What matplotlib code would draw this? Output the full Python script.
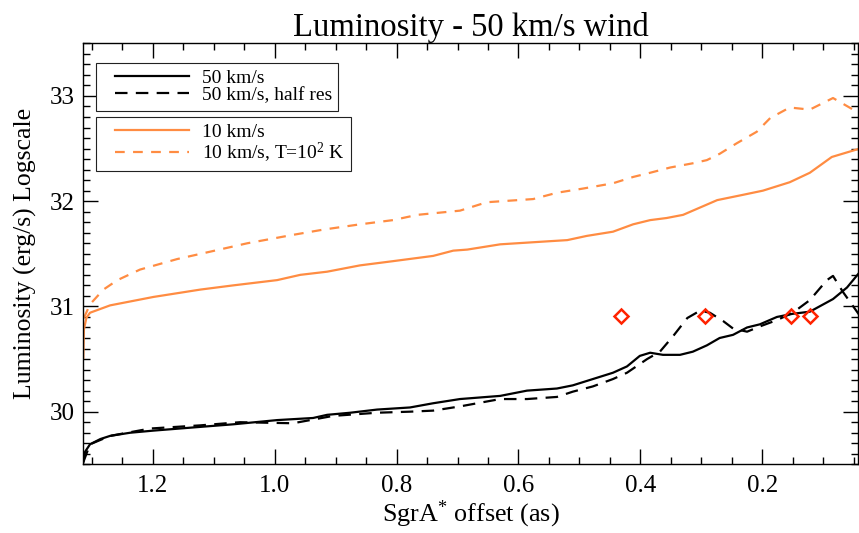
import matplotlib
matplotlib.use("Agg")
import matplotlib.pyplot as plt
from matplotlib.ticker import MultipleLocator
from matplotlib.legend_handler import HandlerLine2D

plt.rcParams['font.family'] = ['Liberation Serif', 'DejaVu Serif']
plt.rcParams['mathtext.fontset'] = 'custom'
plt.rcParams['mathtext.rm'] = 'Liberation Serif'
plt.rcParams['mathtext.it'] = 'Liberation Serif'
plt.rcParams['lines.scale_dashes'] = False

# ---- data (offset in arcsec, log luminosity) ----
x_50 = [1.314, 1.311, 1.303, 1.286, 1.270, 1.237, 1.199, 1.134, 1.068, 0.996, 0.937, 0.914,
        0.876, 0.832, 0.778, 0.740, 0.696, 0.630, 0.586, 0.537, 0.511, 0.478, 0.445, 0.422,
        0.401, 0.384, 0.363, 0.335, 0.314, 0.291, 0.270, 0.248, 0.225, 0.204, 0.176, 0.150,
        0.122, 0.084, 0.061, 0.041]
L_50 = [29.52, 29.62, 29.69, 29.74, 29.77, 29.80, 29.82, 29.85, 29.88, 29.92, 29.94, 29.97,
        29.99, 30.02, 30.04, 30.08, 30.12, 30.15, 30.20, 30.22, 30.25, 30.31, 30.37, 30.43,
        30.53, 30.56, 30.54, 30.54, 30.57, 30.63, 30.70, 30.73, 30.80, 30.83, 30.90, 30.93,
        30.95, 31.07, 31.18, 31.32]

x_50h = [1.314, 1.303, 1.270, 1.204, 1.122, 1.057, 0.970, 0.904, 0.832, 0.778, 0.740, 0.696,
         0.630, 0.586, 0.537, 0.511, 0.478, 0.445, 0.422, 0.389, 0.368, 0.346, 0.323, 0.302,
         0.286, 0.264, 0.248, 0.225, 0.204, 0.176, 0.150, 0.122, 0.094, 0.084, 0.068, 0.041]
L_50h = [29.52, 29.69, 29.77, 29.84, 29.87, 29.90, 29.89, 29.96, 29.99, 30.00, 30.01, 30.05,
         30.12, 30.12, 30.14, 30.19, 30.24, 30.31, 30.37, 30.50, 30.57, 30.72, 30.89, 30.96,
         30.94, 30.86, 30.79, 30.76, 30.81, 30.87, 30.94, 31.06, 31.25, 31.29, 31.14, 30.92]

x_10 = [1.314, 1.313, 1.309, 1.303, 1.270, 1.199, 1.122, 1.068, 0.996, 0.958, 0.914, 0.860,
        0.806, 0.740, 0.707, 0.684, 0.630, 0.548, 0.520, 0.488, 0.445, 0.412, 0.384, 0.357,
        0.330, 0.294, 0.274, 0.232, 0.199, 0.155, 0.122, 0.086, 0.040]
L_10 = [30.51, 30.78, 30.89, 30.94, 31.01, 31.09, 31.16, 31.20, 31.25, 31.30, 31.33, 31.39,
        31.43, 31.48, 31.53, 31.54, 31.59, 31.62, 31.63, 31.67, 31.71, 31.78, 31.82, 31.84,
        31.87, 31.96, 32.01, 32.06, 32.10, 32.18, 32.27, 32.42, 32.50]

x_10T = [1.313, 1.303, 1.281, 1.258, 1.221, 1.160, 1.106, 1.045, 0.970, 0.920, 0.860, 0.806,
         0.766, 0.696, 0.652, 0.576, 0.537, 0.494, 0.445, 0.412, 0.384, 0.351, 0.314, 0.291,
         0.270, 0.242, 0.209, 0.187, 0.155, 0.122, 0.084, 0.045]
L_10T = [30.89, 31.02, 31.16, 31.25, 31.35, 31.45, 31.52, 31.60, 31.68, 31.73, 31.78, 31.82,
         31.87, 31.91, 31.99, 32.02, 32.08, 32.12, 32.17, 32.23, 32.27, 32.32, 32.36, 32.39,
         32.45, 32.55, 32.66, 32.79, 32.89, 32.87, 32.98, 32.85]

x_obs = [0.432, 0.294, 0.153, 0.122]
L_obs = [30.91, 30.91, 30.91, 30.91]

labels = ['50 km/s', '50 km/s, half res', '10 km/s', '10 km/s, T=10$^{2}$ K']

ORANGE = '#FF8C42'
RED = '#FF2200'

fig = plt.figure(figsize=(8.59, 5.33), dpi=100)
ax = fig.add_axes([83.3 / 859, 1 - 464.3 / 533, (858 - 83.3) / 859, (464.3 - 43.3) / 533])

l1, = ax.plot(x_50, L_50, color='black', lw=1.6, label=labels[0])
l2, = ax.plot(x_50h, L_50h, color='black', lw=1.6, ls=(0, (9, 6)), label=labels[1])
l3, = ax.plot(x_10, L_10, color=ORANGE, lw=1.6, label=labels[2])
l4, = ax.plot(x_10T, L_10T, color=ORANGE, lw=1.6, ls=(0, (7, 6)), label=labels[3])
ax.plot(x_obs, L_obs, ls='none', marker='D', ms=7.5, mfc='none', mec=RED, mew=1.8)

ax.set_xlim(1.314, 0.043)
ax.set_ylim(29.5, 33.5)

ax.xaxis.set_major_locator(MultipleLocator(0.2))
ax.xaxis.set_minor_locator(MultipleLocator(0.05))
ax.yaxis.set_major_locator(MultipleLocator(1))
ax.yaxis.set_minor_locator(MultipleLocator(0.1))
ax.tick_params(which='both', direction='in', top=True, right=True, labelsize=18, width=1.0)
ax.tick_params(which='major', length=11)
ax.tick_params(which='minor', length=5.3)
ax.tick_params(axis='x', pad=8)
ax.tick_params(axis='y', pad=6)
for sp in ax.spines.values():
    sp.set_linewidth(1.0)

ax.set_title('Luminosity - 50 km/s wind', fontsize=23.5, pad=3)
ax.set_xlabel('SgrA$^{*}$ offset (as)', fontsize=18.8, labelpad=1)
ax.set_ylabel('Luminosity (erg/s) Logscale', fontsize=18.5, labelpad=9)

hmap = {l: HandlerLine2D(xpad=0.65) for l in (l1, l2, l3, l4)}
common = dict(loc='upper left', fontsize=14, frameon=True, fancybox=False, framealpha=1,
              edgecolor='#222222', borderpad=0.33, handlelength=4.45, handletextpad=0.65,
              labelspacing=0.0, borderaxespad=0, handler_map=hmap)
leg1 = ax.legend(handles=[l1, l2], bbox_to_anchor=(0.0164, 0.954), **common)
leg1.get_frame().set_linewidth(0.8)
ax.add_artist(leg1)
leg2 = ax.legend(handles=[l3, l4], bbox_to_anchor=(0.0164, 0.8257), **common)
leg2.get_frame().set_linewidth(0.8)

fig.savefig('out.png', dpi=100)
